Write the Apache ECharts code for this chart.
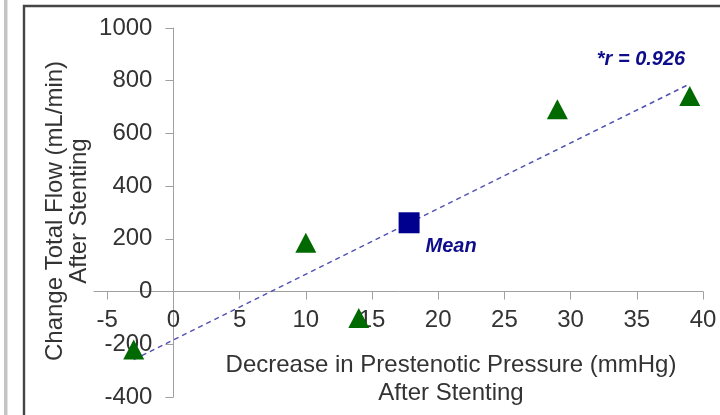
<!DOCTYPE html>
<html>
<head>
<meta charset="utf-8">
<style>
html,body{margin:0;padding:0;background:#fff;}
#chart{width:720px;height:415px;}
</style>
<script src="https://cdn.jsdelivr.net/npm/echarts/dist/echarts.min.js"></script>
</head>
<body>
<div id="chart"></div>
<script>
// ---- data ----
const xTickValues = [-5, 0, 5, 10, 15, 20, 25, 30, 35, 40];
const triX = [-3, 10, 14, 29, 39];
const triY = [-220, 185, -100, 692, 742];
const meanX = [17.8];
const meanY = [261];
const trendX = [-3, 39];
const trendY = [-258, 788];
const rText = '*r = 0.926';
const meanLabel = 'Mean';
const xName = 'Decrease in Prestenotic Pressure (mmHg)\nAfter Stenting';
const yName = 'Change Total Flow (mL/min)\nAfter Stenting';

const FONT = "'Liberation Sans', Arial, sans-serif";
const W = 720, H = 415;
const G = {left: 94, right: 17, top: 28, bottom: 18};
const X_MIN = -6, X_MAX = 40, Y_MIN = -400, Y_MAX = 1000;
const gridW = W - G.left - G.right, gridH = H - G.top - G.bottom;
// move each axis so it crosses the other at zero
const xAxisOffset = -(0 - Y_MIN) / (Y_MAX - Y_MIN) * gridH;
const yAxisOffset = -(0 - X_MIN) / (X_MAX - X_MIN) * gridW;

const chart = echarts.init(document.getElementById('chart'), null, {renderer: 'canvas'});
const zip = (a, b) => a.map((v, i) => [v, b[i]]);

chart.setOption({
  animation: false,
  backgroundColor: '#ffffff',
  grid: Object.assign({containLabel: false, outerBoundsMode: 'none'}, G),
  xAxis: {
    type: 'value', min: X_MIN, max: X_MAX, position: 'bottom', offset: xAxisOffset,
    axisLine: {onZero: false, lineStyle: {color: '#a0a0a0', width: 1}},
    axisTick: {show: true, length: 8, customValues: xTickValues, lineStyle: {color: '#a0a0a0'}},
    axisLabel: {customValues: xTickValues, margin: 17, fontSize: 24, color: '#333', fontFamily: FONT,
      formatter: v => String(v)},
    splitLine: {show: false}
  },
  yAxis: {
    type: 'value', min: Y_MIN, max: Y_MAX, interval: 200, position: 'left', offset: yAxisOffset,
    axisLine: {show: true, onZero: false, lineStyle: {color: '#a0a0a0', width: 1}},
    axisTick: {show: true, length: 8, lineStyle: {color: '#a0a0a0'}},
    axisLabel: {margin: 21, fontSize: 24, color: '#333', fontFamily: FONT, formatter: v => String(v)},
    splitLine: {show: false}
  },
  series: [
    {
      type: 'line', data: zip(trendX, trendY), symbol: 'none', z: 1,
      lineStyle: {color: '#5050b8', width: 1.5, type: [5, 4]}
    },
    {
      type: 'scatter', data: zip(triX, triY), symbol: 'triangle', symbolSize: [21, 20], z: 3,
      itemStyle: {color: '#006a00', opacity: 1}
    },
    {
      type: 'scatter', data: zip(meanX, meanY), symbol: 'rect', symbolSize: 21, z: 3,
      itemStyle: {color: '#00008f', opacity: 1},
      label: {
        show: true, formatter: meanLabel, position: [27, 34], align: 'left', verticalAlign: 'middle',
        fontSize: 20, fontWeight: 'bold', fontStyle: 'italic', color: '#0d0d8c', fontFamily: FONT
      }
    }
  ],
  graphic: [
    {type: 'rect', shape: {x: 4, y: 0, width: 3.5, height: 415}, style: {fill: '#c4c4c4'}, silent: true},
    {type: 'rect', shape: {x: 24, y: 6, width: 720, height: 430}, style: {fill: 'none', stroke: '#454545', lineWidth: 2.4}, silent: true},
    {type: 'text', x: 641, y: 59, style: {text: rText, align: 'center', verticalAlign: 'middle',
      font: "italic bold 20px " + FONT, fill: '#0d0d8c'}},
    {type: 'text', x: 451, y: 379, style: {text: xName, align: 'center', verticalAlign: 'middle',
      font: "24px " + FONT, lineHeight: 28, fill: '#333'}},
    {type: 'text', x: 67, y: 211, rotation: Math.PI / 2, style: {text: yName, align: 'center', verticalAlign: 'middle',
      font: "24px " + FONT, lineHeight: 24, fill: '#333'}}
  ]
});
</script>
</body>
</html>
